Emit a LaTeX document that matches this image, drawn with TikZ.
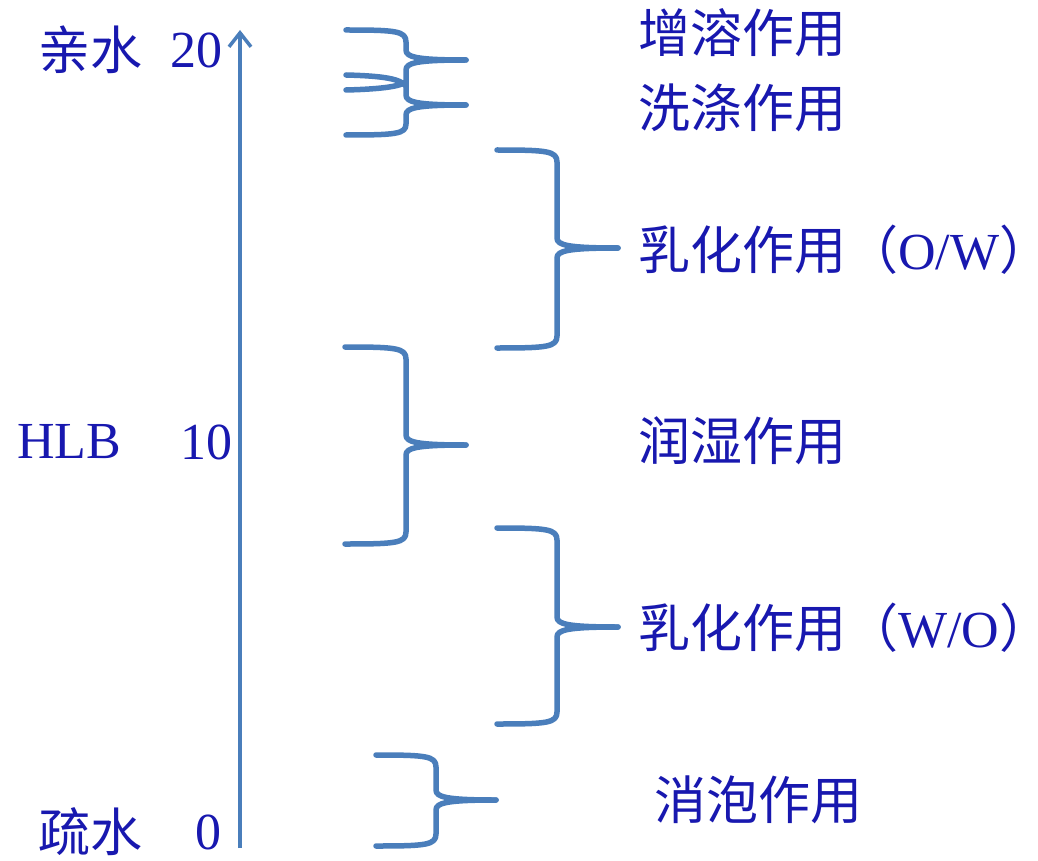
\documentclass[tikz,border=0pt]{standalone}
\usepackage{fontspec}
\setmainfont{Liberation Serif}
\newfontfamily\cjk{Noto Sans CJK SC}
\usetikzlibrary{arrows.meta}
\definecolor{txtblue}{RGB}{24,24,175}
\definecolor{brblue}{RGB}{74,126,187}
\tikzset{
  lbl/.style={anchor=west,inner sep=0pt,text=txtblue,font=\fontsize{52}{60}\selectfont},
  brace/.style={draw=brblue,line width=5.5pt,line cap=round,line join=round},
  axisline/.style={draw=brblue,line width=3.5pt,-{Straight Barb[length=14pt,width=22pt,line width=3.5pt]}}
}
\newcommand\mybrace[6]{% L, S, T, top, mid, bot
  \draw[brace] (#1,#4) .. controls (#2-10,#4) and (#2,#4+1) .. (#2,#4+12) -- (#2,#5-10) .. controls (#2,#5-3) and (#2+10,#5) .. (#3,#5);
  \draw[brace] (#1,#6) .. controls (#2-10,#6) and (#2,#6-1) .. (#2,#6-12) -- (#2,#5+10) .. controls (#2,#5+3) and (#2+10,#5) .. (#3,#5);
}
\newcommand\rparen{\makebox[0.45em][l]{）}}
\begin{document}
\begin{tikzpicture}[x=1pt,y=-1pt]
\useasboundingbox (0,0) rectangle (1038,861);
% axis
\coordinate (axb) at (240,848);
\coordinate (axt) at (240,30);
\draw[axisline] (axb) -- (axt);
% left labels
\node[lbl] (qs) at (38,50) {\cjk 亲水};
\node[lbl] (n20) at (170,50) {20};
\node[lbl] (hlb) at (17,442) {HLB};
\node[lbl] (n10) at (180,442) {10};
\node[lbl] (ss) at (38,832) {\cjk 疏水};
\node[lbl] (n0) at (195,832) {0};
% right labels
\node[lbl] (t1) at (638,33) {\cjk 增溶作用};
\node[lbl] (t2) at (638,108) {\cjk 洗涤作用};
\node[lbl] (t3) at (638,250) {\cjk 乳化作用（{\rmfamily O/W}\rparen};
\node[lbl] (t4) at (638,441) {\cjk 润湿作用};
\node[lbl] (t5) at (638,628) {\cjk 乳化作用（{\rmfamily W/O}\rparen};
\node[lbl] (t6) at (654,800) {\cjk 消泡作用};
% top two braces
\draw[brace] (346,30) .. controls (396,30) and (406,31) .. (406,42) -- (406,50) .. controls (406,57) and (416,60) .. (466,60);
\draw[brace] (346,75) .. controls (385,76) and (400,79) .. (406,86) -- (406,70) .. controls (406,63) and (416,60) .. (466,60);
\draw[brace] (346,90) .. controls (385,89) and (400,86) .. (406,82) -- (406,95) .. controls (406,102) and (416,105) .. (466,105);
\draw[brace] (346,135) .. controls (396,135) and (406,134) .. (406,124) -- (406,115) .. controls (406,108) and (416,105) .. (466,105);
% other braces
\mybrace{497}{557}{618}{150}{248}{348}
\mybrace{345}{406}{466}{347}{445}{544}
\mybrace{497}{557}{618}{528}{627}{724}
\mybrace{376}{436}{496}{755}{800}{846}
\end{tikzpicture}
\end{document}
